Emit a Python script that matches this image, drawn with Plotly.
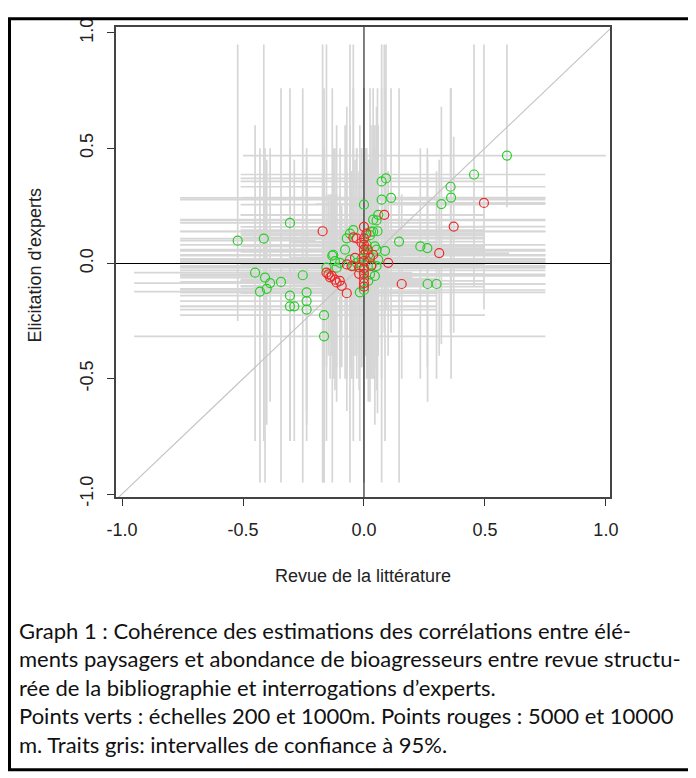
import plotly.graph_objects as go

# ---------------- data ----------------
# green points: scales 200 and 1000 m
green_x = [0.591, 0.455, 0.358, 0.36, 0.32, 0.091, 0.073, 0.112, 0.073, 0.0,
           -0.306, -0.522, -0.414, 0.038, 0.059, 0.052, 0.056, 0.145, 0.233, 0.262,
           0.087, 0.263, 0.3, 0.045, -0.253, -0.237, -0.237, -0.237, -0.165, -0.165,
           -0.017, 0.0, -0.45, -0.409, -0.388, -0.402, -0.43, -0.343, -0.306, -0.306,
           -0.288, -0.131, -0.155, -0.113, -0.099, -0.058, -0.044, 0.025, -0.044, -0.058,
           -0.071, 0.011, 0.045, 0.052, 0.018, -0.127, -0.12, -0.03, 0.011, 0.032,
           0.052, 0.059, 0.025, 0.018, -0.078, 0.038, -0.01, 0.0, 0.008, 0.029]
green_y = [0.468, 0.386, 0.333, 0.286, 0.258, 0.369, 0.356, 0.285, 0.277, 0.255,
           0.176, 0.099, 0.108, 0.19, 0.211, 0.187, 0.14, 0.095, 0.074, 0.067,
           0.055, -0.089, -0.089, -0.054, -0.051, -0.125, -0.163, -0.2, -0.224, -0.316,
           -0.125, -0.115, -0.04, -0.061, -0.085, -0.11, -0.122, -0.08, -0.139, -0.186,
           -0.186, 0.034, -0.018, -0.018, 0.003, 0.017, -0.011, 0.123, 0.145, 0.13,
           0.109, 0.081, 0.074, 0.06, 0.038, 0.038, 0.01, 0.003, 0.01, -0.004,
           -0.011, 0.017, -0.047, -0.075, 0.06, 0.138, 0.02, -0.03, 0.05, 0.138]
green_xlo = [-0.5, -0.51, -0.51, -0.5, -0.2, -0.51, -0.51, -0.76, -0.76, -0.51,
             -0.76, -0.76, -0.76, -0.76, -0.51, -0.76, -0.76, -0.3, -0.1, 0.0,
             -0.76, -0.2, 0.0, -0.76, -0.76, -0.76, -0.76, -0.76, -0.76, -0.95,
             -0.76, -0.76, -0.95, -0.76, -0.95, -0.76, -0.95, -0.76, -0.76, -0.76,
             -0.76, -0.76, -0.76, -0.76, -0.76, -0.76, -0.76, -0.51, -0.51, -0.51,
             -0.51, -0.76, -0.51, -0.76, -0.76, -0.76, -0.76, -0.76, -0.51, -0.51,
             -0.76, -0.51, -0.76, -0.51, -0.51, -0.76, -0.76, -0.76, -0.51, -0.51]
green_xhi = [1.0, 0.75, 0.75, 0.75, 0.75, 0.5, 0.5, 0.75, 0.75, 0.5,
             0.3, -0.2, 0.0, 0.75, 0.5, 0.75, 0.75, 0.5, 0.5, 0.5,
             0.75, 0.75, 0.75, 0.75, 0.3, 0.3, 0.3, 0.3, 0.5, 0.75,
             0.75, 0.75, 0.1, 0.0, 0.3, 0.0, 0.3, 0.3, 0.3, 0.3,
             0.3, 0.75, 0.75, 0.75, 0.75, 0.75, 0.75, 0.5, 0.5, 0.5,
             0.5, 0.75, 0.5, 0.75, 0.75, 0.75, 0.75, 0.75, 0.5, 0.5,
             0.75, 0.5, 0.75, 0.5, 0.5, 0.75, 0.75, 0.75, 0.5, 0.5]
green_ylo = [0.244, -0.1, -0.3, -0.5, -0.35, -0.2, -0.5, -0.3, -0.95, -0.4,
             -0.77, -0.25, -0.77, -0.5, -0.3, -0.45, -0.65, -0.95, -0.5, -0.45,
             -0.77, -0.6, -0.5, -0.7, -0.95, -0.77, -0.7, -0.64, -0.95, -0.95,
             -0.77, -0.95, -0.77, -0.95, -0.6, -0.7, -0.95, -0.95, -0.77, -0.6,
             -0.77, -0.95, -0.77, -0.6, -0.5, -0.95, -0.77, -0.6, -0.5, -0.45,
             -0.64, -0.5, -0.45, -0.55, -0.4, -0.5, -0.55, -0.5, -0.4, -0.45,
             -0.5, -0.4, -0.5, -0.6, -0.5, -0.5, -0.45, -0.5, -0.4, -0.45]
green_yhi = [0.95, 0.95, 0.76, 0.76, 0.68, 0.95, 0.95, 0.76, 0.76, 0.76,
             0.76, 0.95, 0.95, 0.76, 0.6, 0.68, 0.76, 0.76, 0.5, 0.5,
             0.76, 0.45, 0.4, 0.6, 0.76, 0.5, 0.45, 0.4, 0.76, 0.5,
             0.6, 0.76, 0.6, 0.5, 0.5, 0.45, 0.5, 0.76, 0.5, 0.4,
             0.45, 0.76, 0.95, 0.6, 0.5, 0.95, 0.95, 0.76, 0.76, 0.6,
             0.68, 0.5, 0.5, 0.6, 0.45, 0.5, 0.5, 0.5, 0.4, 0.45,
             0.5, 0.45, 0.4, 0.45, 0.6, 0.6, 0.5, 0.45, 0.5, 0.6]

# red points: scales 5000 and 10000 m
red_x = [0.496, 0.371, 0.084, 0.311, 0.156, 0.1, -0.171, 0.0, -0.147, -0.133,
         -0.113, -0.092, -0.071, -0.044, -0.03, 0.0, 0.0, 0.0, 0.0, 0.0,
         0.0, 0.0, 0.0, 0.0, 0.0, -0.02, -0.02, -0.071, -0.051, -0.037,
         0.025, 0.038, -0.155, -0.14, -0.12, -0.1, 0.01, 0.015, -0.01, 0.03]
red_y = [0.263, 0.16, 0.211, 0.045, -0.089, 0.003, 0.14, 0.159, -0.047, -0.054,
         -0.082, -0.097, -0.129, 0.113, 0.109, 0.109, 0.081, 0.06, 0.038, 0.01,
         -0.02, -0.045, -0.065, -0.085, -0.1, -0.017, -0.045, -0.004, -0.011, 0.024,
         0.024, 0.038, -0.04, -0.06, -0.07, -0.075, 0.13, 0.06, 0.09, -0.01]
red_xlo = [0.1, -0.1, -0.51, -0.1, -0.3, -0.3, -0.51, -0.51, -0.51, -0.51,
           -0.51, -0.51, -0.51, -0.51, -0.51, -0.51, -0.51, -0.3, -0.3, -0.51,
           -0.3, -0.51, -0.3, -0.3, -0.51, -0.3, -0.3, -0.51, -0.3, -0.3,
           -0.3, -0.3, -0.51, -0.51, -0.51, -0.51, -0.3, -0.3, -0.3, -0.3]
red_xhi = [0.75, 0.75, 0.5, 0.6, 0.5, 0.5, 0.2, 0.5, 0.2, 0.2,
           0.3, 0.3, 0.3, 0.5, 0.5, 0.5, 0.5, 0.3, 0.3, 0.5,
           0.3, 0.5, 0.3, 0.3, 0.5, 0.3, 0.3, 0.3, 0.3, 0.3,
           0.3, 0.3, 0.2, 0.2, 0.3, 0.3, 0.3, 0.3, 0.3, 0.3]
red_ylo = [-0.2, -0.3, -0.3, -0.4, -0.5, -0.4, -0.95, -0.3, -0.4, -0.4,
           -0.45, -0.45, -0.5, -0.4, -0.4, -0.5, -0.55, -0.6, -0.64, -0.7,
           -0.77, -0.6, -0.7, -0.77, -0.95, -0.5, -0.55, -0.45, -0.5, -0.4,
           -0.45, -0.4, -0.45, -0.5, -0.5, -0.45, -0.4, -0.5, -0.45, -0.5]
red_yhi = [0.95, 0.55, 0.95, 0.45, 0.3, 0.4, 0.95, 0.55, 0.3, 0.3,
           0.3, 0.25, 0.25, 0.5, 0.5, 0.5, 0.45, 0.5, 0.45, 0.4,
           0.4, 0.35, 0.4, 0.35, 0.3, 0.4, 0.35, 0.4, 0.4, 0.45,
           0.45, 0.5, 0.3, 0.3, 0.3, 0.3, 0.5, 0.45, 0.5, 0.4]

tick_vals = [-1.0, -0.5, 0.0, 0.5, 1.0]
tick_text = ["-1.0", "-0.5", "0.0", "0.5", "1.0"]

x_title = "Revue de la littérature"
y_title = "Elicitation d'experts"
caption = [
    "Graph 1 : Cohérence des estimations des corrélations entre élé-",
    "ments paysagers et abondance de bioagresseurs entre revue structu-",
    "rée de la bibliographie et interrogations d’experts.",
    "Points verts : échelles 200 et 1000m. Points rouges : 5000 et 10000",
    "m. Traits gris: intervalles de confiance à 95%.",
]

# ---------------- build segments ----------------
all_x = green_x + red_x
all_y = green_y + red_y
all_xlo = green_xlo + red_xlo
all_xhi = green_xhi + red_xhi
all_ylo = green_ylo + red_ylo
all_yhi = green_yhi + red_yhi

hx, hy, vx, vy = [], [], [], []
for x, y, a, b, c, d in zip(all_x, all_y, all_xlo, all_xhi, all_ylo, all_yhi):
    hx += [a, b, None]
    hy += [y, y, None]
    vx += [x, x, None]
    vy += [c, d, None]

GRAY = "rgb(214,214,214)"
fig = go.Figure()
fig.add_trace(go.Scatter(x=hx, y=hy, mode="lines", line=dict(color=GRAY, width=1.7),
                         hoverinfo="skip", showlegend=False))
fig.add_trace(go.Scatter(x=vx, y=vy, mode="lines", line=dict(color=GRAY, width=1.7),
                         hoverinfo="skip", showlegend=False))
# diagonal y = x
fig.add_trace(go.Scatter(x=[-1.1, 1.1], y=[-1.1, 1.1], mode="lines",
                         line=dict(color="rgb(195,195,195)", width=1.1),
                         hoverinfo="skip", showlegend=False))
# axes at zero
fig.add_trace(go.Scatter(x=[-1.1, 1.1], y=[0, 0], mode="lines",
                         line=dict(color="black", width=1), hoverinfo="skip", showlegend=False))
fig.add_trace(go.Scatter(x=[0, 0], y=[-1.1, 1.1], mode="lines",
                         line=dict(color="black", width=1), hoverinfo="skip", showlegend=False))
fig.add_trace(go.Scatter(x=green_x, y=green_y, mode="markers",
                         marker=dict(symbol="circle-open", size=9,
                                     color="rgb(40,205,40)", line=dict(width=1.2)),
                         showlegend=False))
fig.add_trace(go.Scatter(x=red_x, y=red_y, mode="markers",
                         marker=dict(symbol="circle-open", size=9,
                                     color="rgb(240,40,40)", line=dict(width=1.2)),
                         showlegend=False))

# page has an 8px body margin: positions below are in page pixels of the reference
OFF = 8
W, H = 688, 770
L, T = 116 - OFF, 18 - OFF
pw, ph = 494, 479
R, B = W - L - pw, H - T - ph


def px(xp):
    return (xp - OFF - L) / pw


def py(yp):
    return (H - B - (yp - OFF)) / ph


FONT = "Liberation Sans, Arial"
axis_common = dict(
    tickvals=tick_vals, ticktext=tick_text, ticks="outside", ticklen=7,
    tickcolor="#333", tickwidth=1, showgrid=False, zeroline=False,
    showline=True, linecolor="#444", linewidth=1.5, mirror=True,
    tickfont=dict(family=FONT, size=18, color="#222"),
    fixedrange=True,
)
fig.update_xaxes(range=[-1.025, 1.017], ticklabelstandoff=9, **axis_common)
fig.update_yaxes(range=[-1.013, 1.026], tickangle=-90, ticklabelstandoff=7, **axis_common)

annotations = [
    dict(text=x_title, x=px(363), y=py(578), xref="paper", yref="paper",
         showarrow=False, font=dict(family=FONT, size=18, color="#222"),
         xanchor="center", yanchor="middle"),
    dict(text=y_title, x=px(35), y=py(261), xref="paper", yref="paper", textangle=-90,
         showarrow=False, font=dict(family=FONT, size=18, color="#222"),
         xanchor="center", yanchor="middle"),
]
for i, line in enumerate(caption):
    annotations.append(dict(text=line, x=px(17), y=py(633 + 29 * i), xref="paper",
                            yref="paper", showarrow=False, xanchor="left",
                            yanchor="middle",
                            font=dict(family="Lato", size=22, color="#111")))

fig.update_layout(
    width=W, height=H, margin=dict(l=L, r=R, t=T, b=B),
    plot_bgcolor="white", paper_bgcolor="white",
    annotations=annotations,
    shapes=[dict(type="rect", xref="paper", yref="paper",
                 x0=px(9.5), x1=px(691), y0=py(775), y1=py(9.5),
                 line=dict(color="black", width=3), layer="above")],
)

fig.write_html("out.html")
